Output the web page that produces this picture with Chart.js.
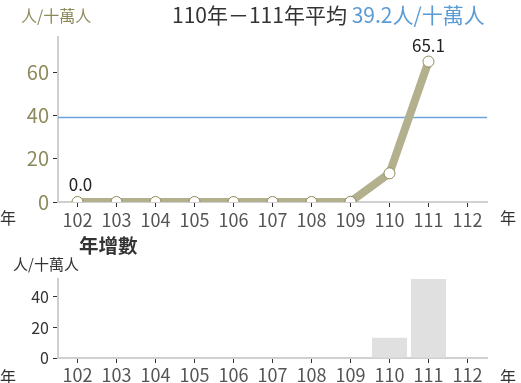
<!DOCTYPE html>
<html lang="zh-Hant">
<head>
<meta charset="UTF-8">
<title>年增數</title>
<script src="https://cdn.jsdelivr.net/npm/chart.js"></script>
<style>
    body { margin: 0; width: 521px; height: 383px; position: relative; background: #fff; overflow: hidden;
           font-family: "Noto Sans CJK TC", "Noto Sans", sans-serif; }
    .lbl { position: absolute; white-space: nowrap; line-height: 1; z-index: 2; }
    #top { position: absolute; left: 0; top: 0; width: 521px; height: 230px; }
    #bottom { position: absolute; left: 0; top: 230px; width: 521px; height: 153px; }
</style>
</head>
<body>
    <div id="top"><canvas id="rateChart"></canvas></div>
    <div id="bottom"><canvas id="incChart"></canvas></div>

    <div class="lbl" style="left:21px;top:7px;font-size:16px;color:#8c8a5a;">人/十萬人</div>
    <div class="lbl" style="left:172px;top:4px;font-size:21px;color:#333;">110年－111年平均 <span style="color:#5b9bd5;">39.2人/十萬人</span></div>
    <div class="lbl" style="left:0;top:209px;font-size:16px;color:#333;">年</div>
    <div class="lbl" style="left:500px;top:209px;font-size:16px;color:#333;">年</div>
    <div class="lbl" style="left:79px;top:235px;font-size:19.5px;font-weight:bold;color:#333;">年增數</div>
    <div class="lbl" style="left:13px;top:256px;font-size:15px;color:#333;">人/十萬人</div>
    <div class="lbl" style="left:0;top:368px;font-size:16px;color:#333;">年</div>
    <div class="lbl" style="left:500px;top:368px;font-size:16px;color:#333;">年</div>

<script>
// years (ROC calendar)
const years = ['102','103','104','105','106','107','108','109','110','111','112'];
// rate per 100k
const rates = [0, 0, 0, 0, 0, 0, 0, 0.1, 13.3, 65.1, null];
// yearly increase
const increases = [null, null, null, null, null, null, null, null, 13.3, 51.8, null];
const avgRate = 39.2;
const rateTicks = [0, 20, 40, 60];
const incTicks = [0, 20, 40];

const font = '"Noto Sans CJK TC", "Noto Sans", sans-serif';

// avg line + the two value labels
const extras = {
    id: 'extras',
    beforeDatasetsDraw(chart) {
        const { ctx, chartArea, scales } = chart;
        const y = scales.y.getPixelForValue(avgRate);
        ctx.save();
        ctx.strokeStyle = '#6fa3dc';
        ctx.lineWidth = 1.5;
        ctx.beginPath();
        ctx.moveTo(chartArea.left, y);
        ctx.lineTo(chartArea.right, y);
        ctx.stroke();
        ctx.restore();
    },
    afterDatasetsDraw(chart) {
        const { ctx } = chart;
        const pts = chart.getDatasetMeta(0).data;
        ctx.save();
        ctx.fillStyle = '#222';
        ctx.font = '17px ' + font;
        ctx.textAlign = 'center';
        ctx.textBaseline = 'bottom';
        ctx.fillText(rates[0].toFixed(1), pts[0].x + 3, pts[0].y - 9);
        ctx.fillText(rates[9].toFixed(1), pts[9].x, pts[9].y - 8);
        ctx.restore();
    }
};

new Chart(document.getElementById('rateChart'), {
    type: 'line',
    data: {
        labels: years,
        datasets: [{
            data: rates,
            borderColor: '#b3b08e',
            borderWidth: 8,
            pointRadius: 5.5,
            pointBackgroundColor: '#fff',
            pointBorderColor: '#8e8a55',
            pointBorderWidth: 1,
            tension: 0
        }]
    },
    options: {
        responsive: true,
        maintainAspectRatio: false,
        animation: false,
        events: [],
        layout: { padding: { top: 37, right: 34, left: 0, bottom: 0 } },
        plugins: { legend: { display: false }, tooltip: { enabled: false } },
        scales: {
            x: {
                offset: true,
                afterFit(s) { s.height = 28; },
                grid: { drawOnChartArea: false, drawTicks: true, tickLength: 5, color: '#333', offset: false },
                border: { color: '#d0d0d0', width: 2 },
                ticks: { color: '#555', font: { size: 18, family: font }, padding: 2, maxRotation: 0, autoSkip: false }
            },
            y: {
                min: 0, max: 76.5,
                afterFit(s) { s.width = 58; },
                afterBuildTicks(s) { s.ticks = rateTicks.map(v => ({ value: v })); },
                grid: { drawOnChartArea: false, drawTicks: true, tickLength: 5, color: '#333' },
                border: { color: '#d0d0d0', width: 2 },
                ticks: { color: '#8c8a5a', font: { size: 20, family: font }, padding: 4 }
            }
        }
    },
    plugins: [extras]
});

new Chart(document.getElementById('incChart'), {
    type: 'bar',
    data: {
        labels: years,
        datasets: [{
            data: increases,
            backgroundColor: '#e0e0e0',
            categoryPercentage: 0.9,
            barPercentage: 1
        }]
    },
    options: {
        responsive: true,
        maintainAspectRatio: false,
        animation: false,
        events: [],
        layout: { padding: { top: 49, right: 34, left: 0, bottom: 0 } },
        plugins: { legend: { display: false }, tooltip: { enabled: false } },
        scales: {
            x: {
                afterFit(s) { s.height = 25; },
                grid: { drawOnChartArea: false, drawTicks: true, tickLength: 5, color: '#333', offset: false },
                border: { color: '#d0d0d0', width: 2 },
                ticks: { color: '#555', font: { size: 18, family: font }, padding: 1, maxRotation: 0, autoSkip: false }
            },
            y: {
                min: 0, max: 51.8,
                afterFit(s) { s.width = 58; },
                afterBuildTicks(s) { s.ticks = incTicks.map(v => ({ value: v })); },
                grid: { drawOnChartArea: false, drawTicks: true, tickLength: 5, color: '#333' },
                border: { color: '#d0d0d0', width: 2 },
                ticks: { color: '#333', font: { size: 16, family: font }, padding: 4 }
            }
        }
    }
});
</script>
</body>
</html>
